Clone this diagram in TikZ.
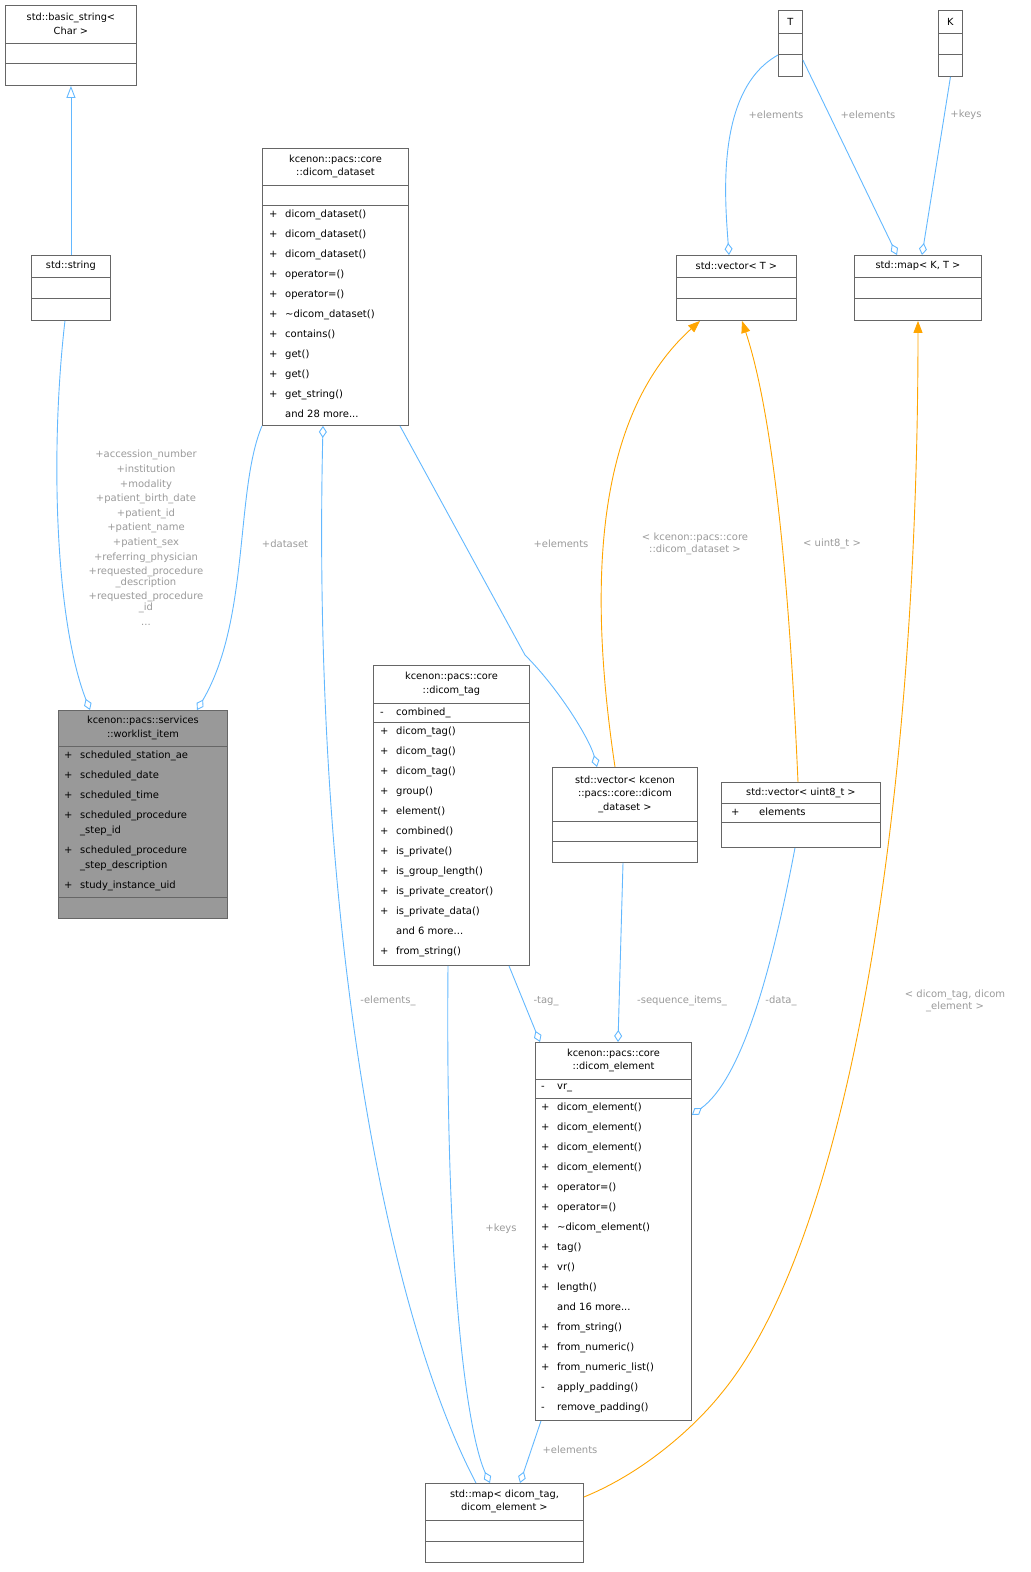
\documentclass[tikz,border=0pt]{standalone}
\usepackage{fontspec}
\setmainfont{DejaVu Sans}
\usetikzlibrary{arrows.meta}
\definecolor{edgeblue}{HTML}{63B8FF}
\definecolor{edgeorange}{HTML}{FFA500}
\definecolor{lblgray}{HTML}{9A9A9A}
\definecolor{boxline}{HTML}{666666}
\definecolor{boxfill}{HTML}{999999}
\newcommand\m[1]{\makebox[16pt][l]{#1}}
\tikzset{%
  cbox/.style={rectangle, draw=boxline, line width=0.9pt, fill=white, inner sep=0pt},
  cline/.style={draw=boxline, line width=0.9pt},
  ctitle/.style={align=center, inner sep=0pt, font=\fontsize{9.8}{13.5}\selectfont},
  cmem/.style={align=left, inner sep=0pt, anchor=north west, font=\fontsize{10}{20}\selectfont},
  agg/.style={draw=edgeblue, line width=0.9pt, {Diamond[open,length=12pt,width=8pt]}-},
  inh/.style={draw=edgeblue, line width=0.9pt, -{Triangle[open,length=12pt,width=9pt]}},
  tpl/.style={draw=edgeorange, line width=0.9pt, -{Triangle[length=12pt,width=9pt,fill=edgeorange]}},
  lbl/.style={text=lblgray, align=center, inner sep=0pt, font=\fontsize{10}{14.6}\selectfont}
}
\newcommand\umlbox[6][white]{%
  \node[cbox, fill=#1, minimum width=#5pt, minimum height=#6pt, anchor=north west] (#2) at (#3,#4) {};}
\newcommand\sep[2]{%
  \draw[cline] ([yshift=-#2pt]#1.north west) -- ([yshift=-#2pt]#1.north east);}
\begin{document}
\begin{tikzpicture}[x=1pt,y=-1pt]
  \useasboundingbox (0,0) rectangle (1031,1572);
  % class boxes
  \umlbox{bstr}{5}{5}{131}{80}
  \sep{bstr}{38} \sep{bstr}{58}
  \node[ctitle] at ([yshift=-19pt]bstr.north) {std::basic\_string<\\Char >};

  \umlbox{str}{31}{255}{79}{65}
  \sep{str}{22} \sep{str}{43}
  \node[ctitle] at ([yshift=-11pt]str.north) {std::string};

  \umlbox{ds}{262}{148}{146}{277}
  \sep{ds}{37} \sep{ds}{57}
  \node[ctitle] at ([yshift=-18.5pt]ds.north) {kcenon::pacs::core\\::dicom\_dataset};
  \node[cmem] at ([xshift=7pt,yshift=-62pt]ds.north west) {\m{+}dicom\_dataset()\\\m{+}dicom\_dataset()\\\m{+}dicom\_dataset()\\\m{+}operator=()\\\m{+}operator=()\\\m{+}\textasciitilde dicom\_dataset()\\\m{+}contains()\\\m{+}get()\\\m{+}get()\\\m{+}get\_string()\\\m{}and 28 more...};

  \umlbox[boxfill]{wl}{58}{710}{169}{208}
  \sep{wl}{36} \sep{wl}{187}
  \node[ctitle] at ([yshift=-18pt]wl.north) {kcenon::pacs::services\\::worklist\_item};
  \node[cmem] at ([xshift=6pt,yshift=-41pt]wl.north west) {\m{+}scheduled\_station\_ae\\\m{+}scheduled\_date\\\m{+}scheduled\_time\\\m{+}scheduled\_procedure\\[-5pt]\m{}\_step\_id\\\m{+}scheduled\_procedure\\[-5pt]\m{}\_step\_description\\\m{+}study\_instance\_uid};

  \umlbox{tag}{373}{665}{156}{300}
  \sep{tag}{38} \sep{tag}{57}
  \node[ctitle] at ([yshift=-19pt]tag.north) {kcenon::pacs::core\\::dicom\_tag};
  \node[cmem] at ([xshift=7pt,yshift=-43pt]tag.north west) {\m{-}combined\_};
  \node[cmem] at ([xshift=7pt,yshift=-62pt]tag.north west) {\m{+}dicom\_tag()\\\m{+}dicom\_tag()\\\m{+}dicom\_tag()\\\m{+}group()\\\m{+}element()\\\m{+}combined()\\\m{+}is\_private()\\\m{+}is\_group\_length()\\\m{+}is\_private\_creator()\\\m{+}is\_private\_data()\\\m{}and 6 more...\\\m{+}from\_string()};

  \umlbox{vds}{552}{767}{145}{95}
  \sep{vds}{54} \sep{vds}{74}
  \node[ctitle] at ([yshift=-27pt]vds.north) {std::vector< kcenon\\::pacs::core::dicom\\\_dataset >};

  \umlbox{vu8}{721}{782}{159}{65}
  \sep{vu8}{21} \sep{vu8}{40}
  \node[ctitle] at ([yshift=-11pt]vu8.north) {std::vector< uint8\_t >};
  \node[cmem] at ([xshift=10pt,yshift=-26pt]vu8.north west) {\makebox[28pt][l]{+}elements};

  \umlbox{el}{535}{1042}{156}{378}
  \sep{el}{37} \sep{el}{56}
  \node[ctitle] at ([yshift=-18.5pt]el.north) {kcenon::pacs::core\\::dicom\_element};
  \node[cmem] at ([xshift=6pt,yshift=-42pt]el.north west) {\m{-}vr\_};
  \node[cmem] at ([xshift=6pt,yshift=-61pt]el.north west) {\m{+}dicom\_element()\\\m{+}dicom\_element()\\\m{+}dicom\_element()\\\m{+}dicom\_element()\\\m{+}operator=()\\\m{+}operator=()\\\m{+}\textasciitilde dicom\_element()\\\m{+}tag()\\\m{+}vr()\\\m{+}length()\\\m{}and 16 more...\\\m{+}from\_string()\\\m{+}from\_numeric()\\\m{+}from\_numeric\_list()\\\m{-}apply\_padding()\\\m{-}remove\_padding()};

  \umlbox{mp}{425}{1483}{158}{79}
  \sep{mp}{37} \sep{mp}{58}
  \node[ctitle] at ([yshift=-18.5pt]mp.north) {std::map< dicom\_tag,\\dicom\_element >};

  \umlbox{tt}{778}{10}{24}{66}
  \sep{tt}{23} \sep{tt}{44}
  \node[ctitle] at ([yshift=-11.5pt]tt.north) {T};

  \umlbox{kk}{938}{10}{24}{66}
  \sep{kk}{23} \sep{kk}{44}
  \node[ctitle] at ([yshift=-11.5pt]kk.north) {K};

  \umlbox{vt}{676}{255}{120}{65}
  \sep{vt}{22} \sep{vt}{43}
  \node[ctitle] at ([yshift=-11pt]vt.north) {std::vector< T >};

  \umlbox{mkt}{854}{255}{127}{65}
  \sep{mkt}{22} \sep{mkt}{43}
  \node[ctitle] at ([yshift=-11pt]mkt.north) {std::map< K, T >};

  % connectors
  \draw[inh] (str.north) -- (str.north |- bstr.south);
  \draw[agg] ([xshift=32pt]wl.north west) .. controls (55,620) and (50,450) .. ([xshift=-6pt]str.south);
  \draw[agg] ([xshift=139pt]wl.north west) .. controls (250,620) and (235,490) .. (ds.south west);
  \draw[agg] ([xshift=61pt]ds.south west) .. controls (312,900) and (380,1300) .. ([xshift=51pt]mp.north west);
  \draw[agg] ([xshift=45pt]vds.north west) .. controls (590,740) and (560,690) .. (525,655) -- ([xshift=138pt]ds.south west);
  \draw[agg] ([xshift=53pt]vt.north west) .. controls (725,200) and (715,90) .. ([yshift=-45pt]tt.north west);
  \draw[agg] ([xshift=43pt]mkt.north west) -- ([yshift=-50pt]tt.north east);
  \draw[agg] ([xshift=68pt]mkt.north west) -- (kk.south);
  \draw[tpl] ([xshift=63pt]vds.north west) .. controls (590,600) and (590,420) .. ([xshift=24pt]vt.south west);
  \draw[tpl] ([xshift=77pt]vu8.north west) .. controls (790,600) and (775,420) .. ([xshift=66pt]vt.south west);
  \draw[tpl] ([yshift=-14pt]mp.north east) .. controls (650,1470) and (700,1420) .. (720,1395) .. controls (850,1240) and (918,800) .. ([xshift=64pt]mkt.south west);
  \draw[agg] ([xshift=5pt]el.north west) -- ([xshift=136pt]tag.south west);
  \draw[agg] ([xshift=83pt]el.north west) -- ([xshift=71pt]vds.south west);
  \draw[agg] ([yshift=-73pt]el.north east) .. controls (740,1080) and (770,980) .. ([xshift=74pt]vu8.south west);
  \draw[agg] ([xshift=65pt]mp.north west) .. controls (470,1440) and (445,1300) .. ([xshift=75pt]tag.south west);
  \draw[agg] ([xshift=95pt]mp.north west) -- ([xshift=6pt]el.south west);

  % connector labels
  \node[lbl, anchor=north] at (146,450) {+accession\_number\\+institution\\+modality\\+patient\_birth\_date\\+patient\_id\\+patient\_name\\+patient\_sex\\+referring\_physician\\+requested\_procedure\\[-4pt]\_description\\+requested\_procedure\\[-4pt]\_id\\...};
  \node[lbl] at (285,544) {+dataset};
  \node[lbl] at (388,1001) {-elements\_};
  \node[lbl] at (561,544) {+elements};
  \node[lbl] at (695,544) {< kcenon::pacs::core\\[-3pt]::dicom\_dataset >};
  \node[lbl] at (832,544) {< uint8\_t >};
  \node[lbl] at (776,115) {+elements};
  \node[lbl] at (868,115) {+elements};
  \node[lbl] at (966,115) {+keys};
  \node[lbl] at (955,1001) {< dicom\_tag, dicom\\[-3pt]\_element >};
  \node[lbl] at (546,1001) {-tag\_};
  \node[lbl] at (682,1001) {-sequence\_items\_};
  \node[lbl] at (781,1001) {-data\_};
  \node[lbl] at (501,1229) {+keys};
  \node[lbl] at (570,1450) {+elements};
\end{tikzpicture}
\end{document}
